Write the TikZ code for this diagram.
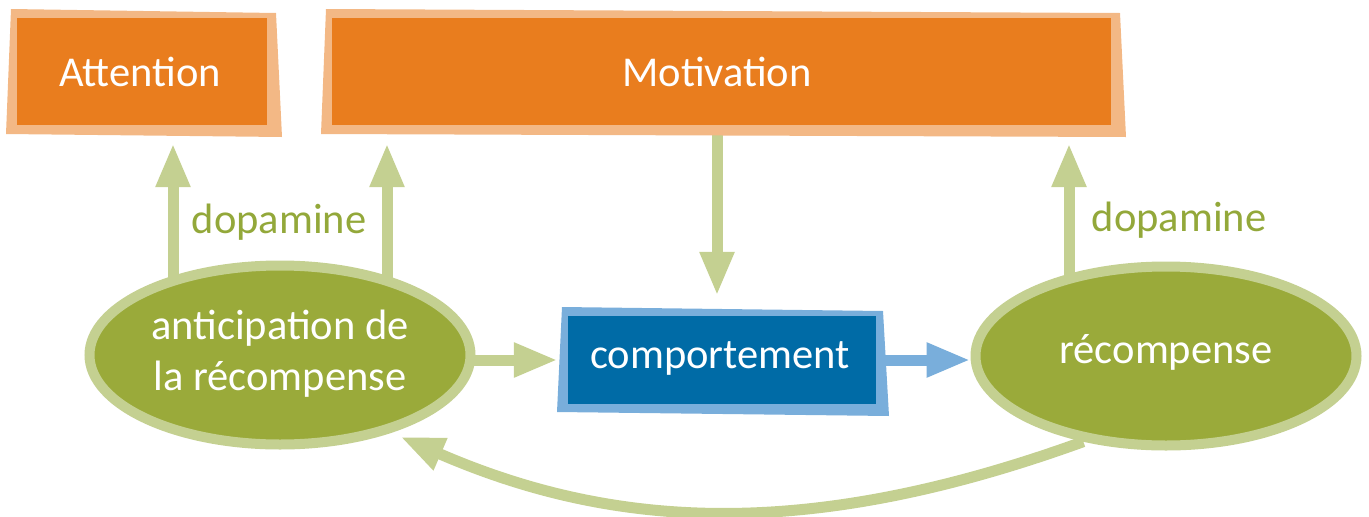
\documentclass[tikz,border=0pt]{standalone}
\usepackage{fontspec}
\setmainfont{Carlito}
\usetikzlibrary{arrows.meta,shapes.geometric}
\definecolor{orIn}{HTML}{E97D1E}
\definecolor{orOut}{HTML}{F3B885}
\definecolor{grIn}{HTML}{9AAA3A}
\definecolor{grOut}{HTML}{C4D091}
\definecolor{blIn}{HTML}{006BA6}
\definecolor{blOut}{HTML}{79AEDB}
\definecolor{dopa}{HTML}{93A83A}
\pgfdeclarelayer{arrowlayer}
\pgfdeclarelayer{framelayer}
\pgfsetlayers{arrowlayer,framelayer,main}
\begin{document}
\begin{tikzpicture}[x=1pt,y=-1pt,
 bigtext/.style={font=\fontsize{42.5}{51}\selectfont},
 obox/.style={fill=orIn, text=white, inner sep=0pt, bigtext},
 bbox/.style={fill=blIn, text=white, inner sep=0pt, bigtext},
 gell/.style={ellipse, fill=grIn, draw=grOut, line width=10pt, text=white, inner sep=0pt,
   minimum width=381pt, minimum height=179pt, align=center, bigtext},
 tipstyle/.style={-{Triangle[length=44pt,width=32pt]}},
 garrow/.style={draw=grOut, line width=11pt, tipstyle},
 barrow/.style={draw=blOut, line width=11pt, tipstyle},
 dopatext/.style={text=dopa, bigtext}]
\useasboundingbox (0,0) rectangle (1369,517);

% nodes
\node[obox, minimum width=250pt, minimum height=107pt] (att) at (142,71.5) {\hspace*{-4pt}Attention};
\node[obox, minimum width=779pt, minimum height=107pt] (mot) at (721.5,71.5) {\hspace*{-9pt}Motivation};
\node[bbox, minimum width=308pt, minimum height=88pt] (comp) at (722,360) {\raisebox{-8pt}[0pt][0pt]{\hspace*{-4pt}comportement}};
\node[gell] (ant) at (280,355) {\raisebox{-6pt}{\begin{tabular}{@{}c@{}}anticipation de\\la récompense\end{tabular}}};
\node[gell] (rec) at (1166,356) {\raisebox{-7pt}[0pt][0pt]{récompense}};
\node[dopatext] (d1) at (279,222) {dopamine};
\node[dopatext] (d2) at (1179,220) {dopamine};

% frames
\begin{pgfonlayer}{framelayer}
\fill[orOut] (11,9) -- (276,13) -- (282,137) -- (6,134) -- cycle;
\fill[orOut] (326,9) -- (1120,13) -- (1126,137) -- (321,134) -- cycle;
\fill[blOut] (562,307) -- (883,311) -- (889,416) -- (557,412) -- cycle;
\end{pgfonlayer}

% connectors
\coordinate (x1) at (173,0);
\coordinate (x2) at (387,0);
\coordinate (x3) at (1069,0);
\coordinate (x4) at (717,0);
\begin{pgfonlayer}{arrowlayer}
\draw[garrow, shorten >=18pt] (ant.center -| x1) -- (att.south -| x1);
\draw[garrow, shorten >=18pt] (ant.center -| x2) -- (mot.south -| x2);
\draw[garrow, shorten >=18pt] (rec.center -| x3) -- (mot.south -| x3);
\draw[garrow, shorten >=20pt] (mot.south -| x4) -- (comp.north -| x4);
\draw[garrow, shorten >=10pt] (comp.west -| ant.center) -- (comp.west);
\draw[barrow] (comp.center) -- (comp.center -| rec.west);
\draw[garrow, shorten >=10pt] (rec.226) .. controls (809,541) and (615,530) .. (ant.-35);
\end{pgfonlayer}
\end{tikzpicture}
\end{document}
